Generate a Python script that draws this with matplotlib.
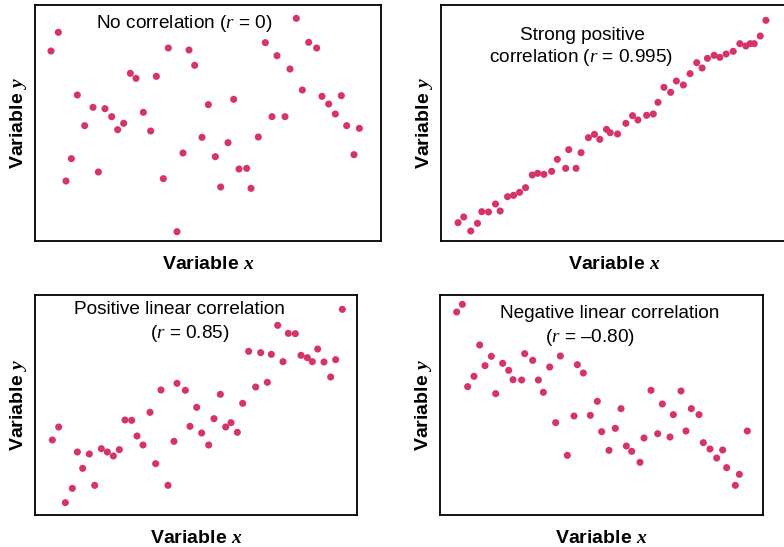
import matplotlib.pyplot as plt

plt.rcParams['font.family'] = 'Liberation Sans'
plt.rcParams['mathtext.fontset'] = 'custom'
plt.rcParams['mathtext.rm'] = 'Liberation Sans'
plt.rcParams['mathtext.it'] = 'Liberation Serif:italic'
plt.rcParams['mathtext.bfit'] = 'Liberation Serif:italic:bold'

# no correlation (r = 0)
x_none = [4.8, 7.0, 9.3, 10.9, 12.7, 14.9, 17.4, 19.0, 21.0, 23.0, 24.8, 26.6, 28.6, 30.3, 32.5,
          34.7, 36.4, 38.5, 40.0, 42.6, 44.4, 46.2, 47.9, 50.1, 52.0, 54.1, 55.7, 57.9, 59.6, 61.2,
          63.5, 64.8, 67.0, 69.1, 71.1, 72.6, 75.0, 76.5, 78.4, 80.2, 82.1, 84.5, 86.1, 88.1, 90.1,
          91.9, 93.5, 95.7, 97.3]
y_none = [56.7, 62.3, 17.7, 24.4, 43.5, 34.3, 39.8, 20.4, 39.4, 37.0, 33.1, 35.0, 50.0, 48.5, 38.3,
          32.7, 49.1, 18.4, 57.6, 2.5, 26.1, 57.0, 52.4, 30.8, 40.6, 25.0, 15.9, 29.2, 42.2, 21.3,
          21.5, 15.5, 30.9, 59.2, 37.0, 55.3, 37.0, 51.3, 66.5, 45.0, 59.3, 57.6, 43.1, 40.8, 37.8,
          43.3, 34.3, 25.6, 33.5]

# strong positive (r = 0.995)
x_strong = [5.1, 6.8, 8.9, 10.9, 12.2, 14.2, 16.3, 17.7, 19.9, 21.7, 23.5, 25.3, 27.3, 28.9, 30.8,
            33.1, 34.8, 37.3, 38.2, 40.4, 41.9, 44.1, 45.9, 47.5, 49.5, 50.6, 52.8, 55.3, 57.3, 58.9,
            61.5, 63.5, 64.9, 66.7, 68.7, 70.4, 72.5, 74.5, 76.5, 78.1, 79.7, 81.7, 83.4, 85.3, 87.4,
            89.4, 91.2, 92.5, 93.7, 95.5, 97.2]
y_strong = [5.4, 7.1, 2.9, 5.2, 8.7, 8.6, 11.0, 8.9, 13.2, 13.6, 14.5, 15.9, 19.7, 20.2, 19.9,
            20.8, 24.4, 21.7, 27.3, 21.7, 26.4, 30.9, 31.9, 30.4, 33.4, 32.4, 32.0, 35.2, 37.5, 36.2,
            37.6, 38.0, 41.5, 46.0, 44.5, 47.9, 46.7, 50.1, 53.4, 51.8, 54.7, 55.6, 55.0, 56.0, 56.8,
            59.1, 58.4, 59.1, 59.1, 61.4, 66.1]

# positive linear (r = 0.85)
x_pos = [5.2, 7.1, 9.1, 11.2, 12.7, 14.3, 16.3, 17.9, 19.9, 21.7, 23.5, 25.3, 27.0, 29.0, 30.6,
         32.4, 34.5, 36.2, 37.8, 39.9, 41.7, 42.6, 45.1, 46.5, 48.5, 50.0, 52.1, 53.7, 55.6, 57.2,
         58.8, 60.7, 62.3, 64.1, 66.2, 67.7, 69.7, 70.9, 72.8, 74.4, 76.0, 78.1, 79.8, 81.7, 83.2,
         84.8, 86.7, 88.7, 90.2, 92.2]
y_pos = [22.3, 26.2, 3.5, 7.8, 18.7, 13.8, 18.1, 8.7, 19.7, 18.7, 17.5, 19.4, 28.3, 28.2, 23.5,
         20.8, 30.6, 15.2, 37.3, 8.7, 21.9, 39.3, 37.2, 26.4, 32.1, 24.4, 20.8, 28.7, 36.0, 26.2,
         27.5, 24.6, 33.3, 48.9, 38.2, 48.5, 39.6, 48.0, 56.7, 45.8, 54.3, 54.2, 47.7, 47.0, 45.8,
         49.6, 45.7, 41.2, 46.4, 61.5]

# negative linear (r = -0.80)
x_neg = [5.0, 6.7, 8.3, 10.2, 11.9, 13.5, 15.4, 16.7, 18.8, 20.6, 21.9, 24.5, 25.4, 27.8, 29.5,
         31.0, 32.9, 34.7, 36.1, 38.2, 40.2, 41.2, 43.0, 45.1, 47.2, 48.5, 50.7, 52.6, 54.3, 55.9,
         57.5, 60.0, 61.2, 63.3, 65.3, 66.7, 69.0, 70.0, 72.3, 73.8, 75.4, 77.7, 79.0, 81.0, 83.0,
         84.8, 86.0, 88.6, 89.8, 92.2]
y_neg = [60.7, 63.0, 38.3, 41.4, 50.8, 44.6, 47.4, 36.2, 45.3, 43.2, 40.4, 40.3, 48.2, 46.2, 40.3,
         36.6, 44.2, 27.5, 47.5, 17.7, 29.5, 44.9, 42.4, 29.7, 33.9, 24.8, 19.2, 25.8, 31.7, 20.5,
         18.9, 15.6, 22.9, 37.2, 24.2, 33.1, 23.2, 29.9, 37.0, 25.0, 31.7, 29.9, 21.5, 19.6, 16.9,
         19.3, 14.0, 8.7, 12.0, 25.0]

dot = '#d6336c'
W, H = 784, 547

fig = plt.figure(figsize=(7.84, 5.47), dpi=100)


def panel(px_box, xs, ys, xlim, ylim):
    l, t, r, b = px_box
    ax = fig.add_axes([l / W, 1 - b / H, (r - l) / W, (b - t) / H])
    ax.scatter(xs, ys, s=26, color=dot, edgecolors='none')
    ax.set_xlim(*xlim)
    ax.set_ylim(*ylim)
    ax.set_xticks([])
    ax.set_yticks([])
    for sp in ax.spines.values():
        sp.set_linewidth(1.3)
    ax.set_xlabel(r'Variable $\mathbfit{x}$', fontsize=14, fontweight='bold', labelpad=11)
    ax.set_ylabel(r'Variable $\mathbfit{y}$', fontsize=14, fontweight='bold', labelpad=4)
    return ax


ax1 = panel((35, 5, 381, 241), x_none, y_none, (0, 103.8), (-0.3, 70.5))
ax2 = panel((441, 5, 787, 241), x_strong, y_strong, (0, 103.5), (-0.1, 70.7))
ax3 = panel((35, 295, 357, 514.5), x_pos, y_pos, (0, 96.6), (-0.05, 65.8))
ax4 = panel((440, 295, 763, 514.5), x_neg, y_neg, (0, 96.9), (-0.05, 65.8))

tkw = dict(fontsize=13.7, ha='center', va='center')
fig.text(184 / W, 1 - 23 / H, r'No correlation ($r$ = 0)', **tkw)
fig.text(582 / W, 1 - 36 / H, 'Strong positive', **tkw)
fig.text(581 / W, 1 - 58 / H, r'correlation ($r$ = 0.995)', **tkw)
fig.text(179 / W, 1 - 310 / H, 'Positive linear correlation', **tkw)
fig.text(190 / W, 1 - 334 / H, r'($r$ = 0.85)', **tkw)
fig.text(610 / W, 1 - 313 / H, 'Negative linear correlation', **tkw)
fig.text(590 / W, 1 - 337 / H, '($r$ = \u20130.80)', **tkw)

fig.savefig('out.png', dpi=100)
